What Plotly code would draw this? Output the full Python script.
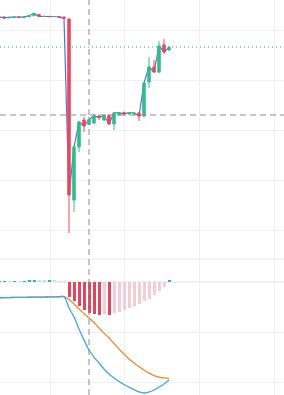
import plotly.graph_objects as go

# ---- data ----
idx = list(range(-1, 34))
open_ = [102.5, 102.6, 102.44, 102.54, 102.6, 102.52, 102.64, 102.84, 103.1, 102.7, 102.74, 102.68, 102.7, 102.6,
         102.2, 66.0, 76.6, 82.0, 81.1, 81.4, 82.8, 82.0, 82.9, 81.2, 83.0, 83.5, 83.2, 83.2, 83.4,
         82.8, 89.6, 92.6, 91.6, 97.0, 96.0]
high = [102.65, 102.7, 102.6, 102.66, 102.64, 102.7, 102.9, 103.5, 103.2, 102.8, 102.78, 102.76, 102.74, 102.64,
        102.3, 77.0, 81.8, 82.6, 82.6, 83.2, 83.0, 83.2, 83.2, 83.6, 83.6, 83.7, 83.6, 83.5, 83.6,
        89.6, 94.6, 94.0, 97.8, 98.2, 96.8]
low = [102.4, 102.3, 102.36, 102.5, 102.46, 102.48, 102.6, 102.8, 102.66, 102.64, 102.62, 102.64, 102.56, 102.3,
       59.4, 63.6, 75.6, 79.6, 81.0, 81.2, 82.0, 81.8, 81.1, 80.0, 82.8, 83.0, 83.0, 83.0, 81.8,
       82.6, 88.4, 91.4, 91.4, 95.2, 95.8]
close = [102.6, 102.44, 102.54, 102.6, 102.52, 102.64, 102.84, 103.3, 102.7, 102.74, 102.68, 102.7, 102.6, 102.34,
         67.0, 76.6, 81.6, 80.8, 82.1, 82.8, 82.5, 82.9, 81.2, 83.4, 83.5, 83.2, 83.5, 83.4, 82.8,
         89.4, 92.6, 91.6, 96.8, 95.6, 96.5]

hist = [0.003, 0.004, 0.003, 0.004, 0.003, 0.005, 0.008, 0.015, 0.012, 0.008, 0.010, 0.006, 0.004, 0.002,
        -0.15, -0.19, -0.24, -0.28, -0.31, -0.32, -0.33, -0.325, -0.33, -0.315, -0.30, -0.28, -0.26,
        -0.245, -0.22, -0.195, -0.17, -0.135, -0.095, -0.055, 0.01]
dif = [-0.161, -0.160, -0.159, -0.158, -0.158, -0.157, -0.156, -0.155, -0.155, -0.154, -0.153, -0.152, -0.151, -0.150,
       -0.262, -0.35, -0.47, -0.58, -0.678, -0.748, -0.807, -0.866, -0.916, -0.955, -0.99, -1.02,
       -1.045, -1.07, -1.094, -1.104, -1.094, -1.074, -1.045, -1.015, -0.975]
dea = [-0.161, -0.160, -0.159, -0.158, -0.158, -0.157, -0.156, -0.155, -0.155, -0.154, -0.153, -0.152, -0.151, -0.150,
       -0.178, -0.223, -0.272, -0.317, -0.361, -0.406, -0.46, -0.51, -0.559, -0.614, -0.668, -0.718,
       -0.767, -0.807, -0.842, -0.876, -0.906, -0.931, -0.946, -0.955, -0.96]

cross_idx = 17
cross_price = 83.0
last_price = 96.6

# ---- styles ----
GREEN = "#2ebd8a"
RED = "#e8475f"
GRID = "#f0f0f0"

hist_colors = []
for i, v in enumerate(hist):
    prev = hist[i - 1] if i > 0 else v
    if v >= 0:
        hist_colors.append(GREEN if v >= prev else "#bfe8da")
    else:
        hist_colors.append("#e3455e" if v <= prev else "#f2cdd4")

fig = go.Figure()

fig.add_trace(go.Scatter(x=idx, y=close, mode="lines", line=dict(color="#5a6fd5", width=1.2),
                         xaxis="x", yaxis="y", hoverinfo="skip"))
fig.add_trace(go.Candlestick(x=idx, open=open_, high=high, low=low, close=close,
                             increasing=dict(line=dict(color=GREEN, width=1), fillcolor=GREEN),
                             decreasing=dict(line=dict(color=RED, width=1), fillcolor=RED),
                             xaxis="x", yaxis="y3"))
fig.add_trace(go.Bar(x=idx, y=hist, marker=dict(color=hist_colors, line=dict(width=0)), width=0.6,
                     xaxis="x2", yaxis="y2"))
fig.add_trace(go.Scatter(x=idx, y=dea, mode="lines", line=dict(color="#ee8a2c", width=1.3, shape="spline"),
                         xaxis="x2", yaxis="y2"))
fig.add_trace(go.Scatter(x=idx, y=dif, mode="lines", line=dict(color="#47a2e2", width=1.3, shape="spline"),
                         xaxis="x2", yaxis="y2"))

split = 1 - 259 / 395
xr = [-0.8, 56]
xcommon = dict(range=xr, showticklabels=False, ticks="", showline=False, zeroline=False,
               showgrid=True, gridcolor=GRID, gridwidth=1, tick0=9.2, dtick=14.95,
               rangeslider=dict(visible=False), fixedrange=True)
fig.update_layout(
    width=284, height=395, margin=dict(l=0, r=0, t=0, b=0),
    paper_bgcolor="white", plot_bgcolor="white", showlegend=False,
    xaxis=dict(anchor="y", domain=[0, 1], **xcommon),
    xaxis2=dict(anchor="y2", domain=[0, 1], matches="x", **xcommon),
    yaxis=dict(domain=[split, 1], range=[54.2, 106], dtick=10, showticklabels=False, ticks="",
               showgrid=True, gridcolor=GRID, zeroline=False, showline=False),
    yaxis3=dict(overlaying="y", matches="y", range=[54.2, 106], showticklabels=False, showgrid=False,
                zeroline=False, showline=False),
    yaxis2=dict(domain=[0, split], range=[-1.1238, 0.2228], dtick=0.5, showticklabels=False, ticks="",
                showgrid=True, gridcolor=GRID, zeroline=True, zerolinecolor=GRID, showline=False),
    bargap=0,
)

shapes = [
    dict(type="line", xref="paper", yref="paper", x0=0, x1=1, y0=split, y1=split,
         line=dict(color="#e6e6e6", width=1)),
    dict(type="line", xref="paper", yref="y", x0=0, x1=1, y0=last_price, y1=last_price,
         line=dict(color="#2aa89a", width=1, dash="1px,3px")),
    dict(type="line", xref="x", yref="paper", x0=cross_idx, x1=cross_idx, y0=0, y1=1,
         line=dict(color="#8c8c8c", width=1, dash="6px,4px")),
    dict(type="line", xref="paper", yref="y", x0=0, x1=1, y0=cross_price, y1=cross_price,
         line=dict(color="#8c8c8c", width=1, dash="6px,4px")),
]
fig.update_layout(shapes=shapes)

fig.write_html("out.html")
